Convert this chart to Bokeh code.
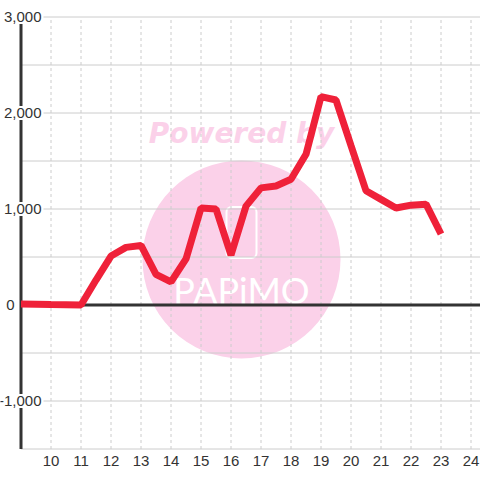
from bokeh.plotting import figure
from bokeh.models import ColumnDataSource, Range1d
from bokeh.core.properties import value
from bokeh.embed import file_html
from bokeh.resources import INLINE

# ---- data ----
hours = [9, 9.5, 10, 10.5, 11, 11.5, 12, 12.5, 13, 13.5, 14, 14.5, 15, 15.5, 16,
         16.5, 17, 17.5, 18, 18.5, 19, 19.5, 20, 20.5, 21, 21.5, 22, 22.5, 23]
values = [10, 8, 5, 3, 0, 260, 510, 600, 620, 320, 240, 480, 1010, 1000, 520,
          1030, 1220, 1240, 1310, 1570, 2170, 2135, 1660, 1190, 1100, 1010, 1040, 1050, 740]

x_ticks = list(range(10, 25))
x_tick_labels = [str(t) for t in x_ticks]
y_grid = [3000, 2500, 2000, 1500, 1000, 500, 0, -500, -1000, -1500]
y_ticks = [3000, 2000, 1000, 0, -1000]
y_tick_labels = ["3,000", "2,000", "1,000", "0", "-1,000"]
y_label_offsets = [22.5, 22.5, 22.5, -4.5, 22.5]

X_AXIS_AT = 9
Y_MIN, Y_MAX = -1500, 3000

# watermark decoration
wm_x, wm_y = 16.35, 474
wm_text_y = 1785
wm_logo_y = 755
wm_name_y = 161
PINK = "#fbd1e9"

x0 = X_AXIS_AT - 20.5 / 30
y_top = Y_MAX + 16.5 / 96 * 1000
p = figure(width=480, height=480,
           x_range=Range1d(x0, x0 + 16), y_range=Range1d(y_top - 5000, y_top),
           output_backend="svg", toolbar_location=None,
           x_axis_type=None, y_axis_type=None,
           min_border=0, min_border_left=0, min_border_right=0,
           min_border_top=0, min_border_bottom=0,
           outline_line_color=None, background_fill_color="white",
           border_fill_color="white")

# watermark
p.scatter(x=[wm_x], y=[wm_y], size=198, marker="circle",
          fill_color=PINK, line_color=None)
p.text(x=[wm_x], y=[wm_text_y], text=["Powered by"], text_align="center",
       text_baseline="alphabetic", text_color=PINK,
       text_font=value("DejaVu Sans"), text_font_style="bold italic",
       text_font_size="28px")
p.rect(x=[wm_x], y=[wm_logo_y], width=30, height=51, width_units="screen",
       height_units="screen", fill_color=None, line_color="white", line_width=2,
       border_radius=5)
p.text(x=[wm_x], y=[wm_name_y], text=["PAPiMO"], text_align="center",
       text_baseline="middle", text_color="white",
       text_font=value("Lato"), text_font_size="36px")

# grid
x_end = x0 + 16
p.segment(x0=[X_AXIS_AT] * len(y_grid), x1=[x_end] * len(y_grid),
          y0=y_grid, y1=y_grid, line_color="#cccccc", line_width=1)
p.segment(x0=x_ticks, x1=x_ticks, y0=[Y_MIN] * len(x_ticks),
          y1=[Y_MAX] * len(x_ticks), line_color="#cccccc", line_width=1,
          line_dash="3 3")

# zero line and left axis line
p.segment(x0=[X_AXIS_AT], x1=[x_end], y0=[0], y1=[0], line_color="#333333", line_width=3)
p.segment(x0=[X_AXIS_AT], x1=[X_AXIS_AT], y0=[Y_MIN], y1=[Y_MAX],
          line_color="#333333", line_width=3)

# y labels with white background
ysrc = ColumnDataSource(dict(x=[X_AXIS_AT] * len(y_ticks), y=y_ticks,
                             t=y_tick_labels, xo=y_label_offsets))
p.text(x="x", y="y", text="t", x_offset="xo", source=ysrc, text_align="right",
       text_baseline="middle", text_color="#333333",
       text_font=value("Liberation Sans"), text_font_size="15px",
       background_fill_color="white", padding=2)

# x labels
p.text(x=x_ticks, y=[Y_MIN] * len(x_ticks), text=x_tick_labels, y_offset=12,
       text_align="center", text_baseline="middle", text_color="#333333",
       text_font=value("Liberation Sans"), text_font_size="15px")

# data line
p.line(hours, values, line_color="#ef2139", line_width=7)

open("out.html", "w").write(file_html(p, INLINE))
